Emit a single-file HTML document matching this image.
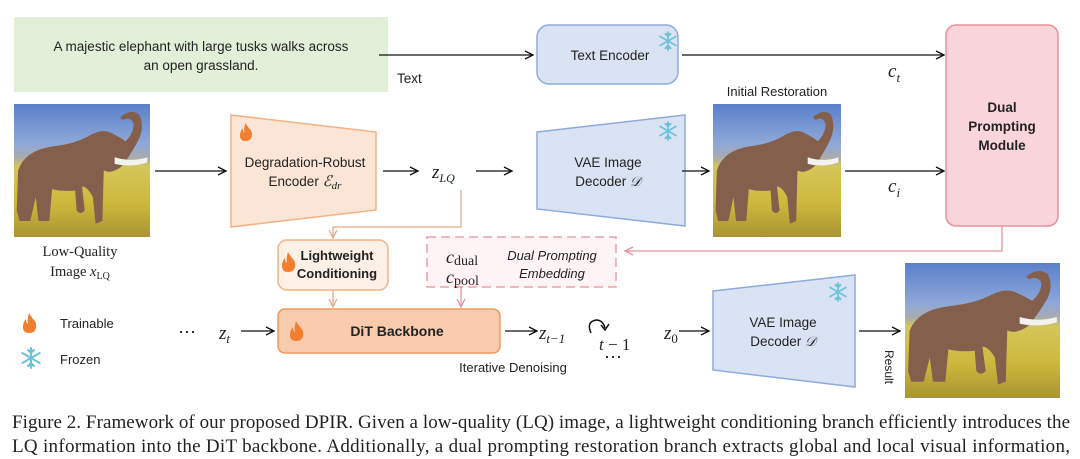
<!DOCTYPE html>
<html><head><meta charset="utf-8"><style>
html,body{margin:0;padding:0;background:#fff;}
svg{display:block;}
.s{font-family:"Liberation Sans",sans-serif;}
.r{font-family:"Liberation Serif",serif;}
</style></head><body>
<svg width="1080" height="459" viewBox="0 0 1080 459" xmlns="http://www.w3.org/2000/svg">
<defs>
<marker id="a" markerWidth="10" markerHeight="10" refX="9" refY="5" orient="auto" markerUnits="userSpaceOnUse"><path d="M1,1 L9,5 L1,9" fill="none" stroke="#111" stroke-width="1.3"/></marker>
<marker id="ao" markerWidth="10" markerHeight="10" refX="9" refY="5" orient="auto" markerUnits="userSpaceOnUse"><path d="M1,1 L9,5 L1,9" fill="none" stroke="#e8a888" stroke-width="1.3"/></marker>
<marker id="ap" markerWidth="10" markerHeight="10" refX="9" refY="5" orient="auto" markerUnits="userSpaceOnUse"><path d="M1,1 L9,5 L1,9" fill="none" stroke="#e8909c" stroke-width="1.3"/></marker>
<linearGradient id="sky" x1="0" y1="0" x2="0" y2="1">
<stop offset="0" stop-color="#5a80cc"/><stop offset="0.3" stop-color="#8fa8d8"/><stop offset="0.4" stop-color="#a8aab0"/><stop offset="0.47" stop-color="#d4c65a"/><stop offset="0.75" stop-color="#cdb83c"/><stop offset="1" stop-color="#a89434"/></linearGradient>
<g id="ele">
<rect x="0" y="0" width="100" height="100" fill="url(#sky)"/>
<path d="M2,80 L3,50 Q8,35 28,32 Q45,30 55,24 Q65,18 72,22 Q78,25 82,28 Q88,22 88,15 Q86,9 80,12 L78,10 Q86,3 92,8 Q96,16 92,26 Q88,34 84,40 Q80,48 74,50 Q70,52 66,50 L65,88 L60,90 L58,70 Q54,62 50,62 L52,80 Q49,84 46,80 L45,65 Q35,66 28,64 L26,88 L18,88 L16,70 L12,88 L4,88 Z" fill="#84604c"/>
<path d="M74,40 Q86,44 98,40 L98,44 Q86,48 74,45Z" fill="#f2f2ee"/>
</g>
<path id="flame" d="M6,0 Q9,5 11,7 Q14,10 13,15 Q12,20 6,20 Q0,20 0,14 Q0,9 3,6 Q3,10 5,11 Q4,6 6,0Z" fill="#f08030"/>
<g id="snow" stroke="#6cc4dc" stroke-width="2" stroke-linecap="round"><path d="M0,-10 L0,10 M-8.7,-5 L8.7,5 M-8.7,5 L8.7,-5 M-3,-8 L0,-5 L3,-8 M-3,8 L0,5 L3,8"/></g>
</defs>

<rect x="14" y="17" width="374" height="75" fill="#e2efd9"/>
<text class="s" x="201" y="51" font-size="13.5" text-anchor="middle" fill="#222">A majestic elephant with large tusks walks across</text>
<text class="s" x="201" y="70" font-size="13.5" text-anchor="middle" fill="#222">an open grassland.</text>
<line x1="379" y1="55" x2="533" y2="55" stroke="#111" stroke-width="1.3" marker-end="url(#a)"/>
<text class="s" x="397" y="83" font-size="13.5" fill="#222">Text</text>

<rect x="537" y="25" width="141" height="59" rx="12" fill="#dae3f3" stroke="#8faadc" stroke-width="1.5"/>
<text class="s" x="610" y="60" font-size="13.5" text-anchor="middle" fill="#222">Text Encoder</text>
<use href="#snow" transform="translate(668,41) scale(0.9)"/>
<line x1="682" y1="55" x2="944" y2="55" stroke="#111" stroke-width="1.3" marker-end="url(#a)"/>
<text class="r" x="888" y="77" font-size="19" font-style="italic" fill="#222">c<tspan font-size="13" dy="5">t</tspan></text>

<rect x="946" y="25" width="112" height="201" rx="10" fill="#fbd5dc" stroke="#e8909c" stroke-width="1.5"/>
<text class="s" x="1002" y="112" font-size="13.5" font-weight="bold" text-anchor="middle" fill="#222">Dual</text>
<text class="s" x="1002" y="131" font-size="13.5" font-weight="bold" text-anchor="middle" fill="#222">Prompting</text>
<text class="s" x="1002" y="150" font-size="13.5" font-weight="bold" text-anchor="middle" fill="#222">Module</text>

<use href="#ele" transform="translate(14,104) scale(1.36,1.33)"/>
<text class="r" x="80" y="256" font-size="14.5" text-anchor="middle" fill="#222">Low-Quality</text>
<text class="r" x="80" y="276" font-size="14.5" text-anchor="middle" fill="#222">Image <tspan font-style="italic">x</tspan><tspan font-size="10" dy="3">LQ</tspan></text>
<line x1="155" y1="171" x2="226" y2="171" stroke="#111" stroke-width="1.3" marker-end="url(#a)"/>

<path d="M231,115 L376,132 L376,210 L231,227 Z" fill="#fbe5d6" stroke="#f4b183" stroke-width="1.5"/>
<use href="#flame" transform="translate(240,123) scale(0.9)"/>
<text class="s" x="305" y="167" font-size="13.5" text-anchor="middle" fill="#222">Degradation-Robust</text>
<text class="s" x="305" y="186" font-size="13.5" text-anchor="middle" fill="#222">Encoder <tspan font-family="Liberation Serif" font-style="italic" font-size="15">ℰ</tspan><tspan font-family="Liberation Serif" font-style="italic" font-size="11" dy="3">dr</tspan></text>
<line x1="383" y1="171" x2="418" y2="171" stroke="#111" stroke-width="1.3" marker-end="url(#a)"/>
<text class="r" x="432" y="178" font-size="19" font-style="italic" fill="#222">z<tspan font-size="12" dy="4">LQ</tspan></text>
<line x1="476" y1="171" x2="512" y2="171" stroke="#111" stroke-width="1.3" marker-end="url(#a)"/>

<path d="M537,132 L685,115 L685,226 L537,209 Z" fill="#dae3f3" stroke="#8faadc" stroke-width="1.5"/>
<use href="#snow" transform="translate(668,131) scale(0.9)"/>
<text class="s" x="608" y="167" font-size="13.5" text-anchor="middle" fill="#222">VAE Image</text>
<text class="s" x="608" y="186" font-size="13.5" text-anchor="middle" fill="#222">Decoder <tspan font-family="Liberation Serif" font-style="italic">𝒟</tspan></text>
<line x1="682" y1="171" x2="709" y2="171" stroke="#111" stroke-width="1.3" marker-end="url(#a)"/>

<text class="s" x="777" y="96" font-size="13" text-anchor="middle" fill="#222">Initial Restoration</text>
<use href="#ele" transform="translate(713,104) scale(1.28,1.33)"/>
<line x1="845" y1="171" x2="944" y2="171" stroke="#111" stroke-width="1.3" marker-end="url(#a)"/>
<text class="r" x="888" y="192" font-size="19" font-style="italic" fill="#222">c<tspan font-size="13" dy="5">i</tspan></text>

<polyline points="1002,226 1002,251 625,251" fill="none" stroke="#e8909c" stroke-width="1.3" marker-end="url(#ap)"/>
<rect x="427" y="237" width="189" height="50" fill="#fef3f5" stroke="#e8909c" stroke-width="1.3" stroke-dasharray="9,5"/>
<text class="r" x="446" y="263" font-size="18" font-style="italic" fill="#222">c<tspan font-style="normal" font-size="14" dy="2">dual</tspan></text>
<text class="r" x="446" y="283" font-size="18" font-style="italic" fill="#222">c<tspan font-style="normal" font-size="14" dy="2">pool</tspan></text>
<text class="s" x="552" y="260" font-size="13" font-style="italic" text-anchor="middle" fill="#222">Dual Prompting</text>
<text class="s" x="552" y="278" font-size="13" font-style="italic" text-anchor="middle" fill="#222">Embedding</text>

<polyline points="461,190 461,227 333,227 333,238" fill="none" stroke="#e8a888" stroke-width="1.3" marker-end="url(#ao)"/>
<rect x="278" y="240" width="110" height="50" rx="9" fill="#fdf0e6" stroke="#f4b183" stroke-width="1.5"/>
<use href="#flame" transform="translate(282,252)"/>
<text class="s" x="337" y="260" font-size="13" font-weight="bold" text-anchor="middle" fill="#222">Lightweight</text>
<text class="s" x="337" y="278" font-size="13" font-weight="bold" text-anchor="middle" fill="#222">Conditioning</text>
<line x1="333" y1="290" x2="333" y2="307" stroke="#e8a888" stroke-width="1.3" marker-end="url(#ao)"/>
<line x1="461" y1="287" x2="461" y2="307" stroke="#e8909c" stroke-width="1.3" marker-end="url(#ap)"/>

<rect x="278" y="309" width="222" height="44" rx="7" fill="#f8cbad" stroke="#ed9b5e" stroke-width="1.5"/>
<use href="#flame" transform="translate(290,321)"/>
<text class="s" x="397" y="336" font-size="14" font-weight="bold" text-anchor="middle" fill="#222">DiT Backbone</text>
<text class="r" x="178" y="338" font-size="18" fill="#222">⋯</text>
<text class="r" x="219" y="339" font-size="19" font-style="italic" fill="#222">z<tspan font-size="13" dy="4">t</tspan></text>
<line x1="241" y1="331" x2="274" y2="331" stroke="#111" stroke-width="1.3" marker-end="url(#a)"/>
<line x1="505" y1="331" x2="537" y2="331" stroke="#111" stroke-width="1.3" marker-end="url(#a)"/>
<text class="r" x="539" y="339" font-size="19" font-style="italic" fill="#222">z<tspan font-size="13" dy="4">t−1</tspan></text>
<text class="s" x="513" y="372" font-size="13" text-anchor="middle" fill="#222">Iterative Denoising</text>

<path d="M591,333 Q586,322 596,320 Q603,320 605,328" fill="none" stroke="#111" stroke-width="1.5"/>
<path d="M601,325 L605,330 L609,324" fill="none" stroke="#111" stroke-width="1.5"/>
<text class="r" x="599" y="350" font-size="17" font-style="italic" fill="#222">t<tspan font-style="normal"> − 1</tspan></text>
<text class="r" x="604" y="363" font-size="18" fill="#222">⋯</text>
<text class="r" x="664" y="339" font-size="19" font-style="italic" fill="#222">z<tspan font-style="normal" font-size="13" dy="4">0</tspan></text>
<line x1="679" y1="331" x2="709" y2="331" stroke="#111" stroke-width="1.3" marker-end="url(#a)"/>

<path d="M713,291 L855,275 L855,387 L713,370 Z" fill="#dae3f3" stroke="#8faadc" stroke-width="1.5"/>
<use href="#snow" transform="translate(838,292) scale(0.9)"/>
<text class="s" x="783" y="327" font-size="13.5" text-anchor="middle" fill="#222">VAE Image</text>
<text class="s" x="783" y="346" font-size="13.5" text-anchor="middle" fill="#222">Decoder <tspan font-family="Liberation Serif" font-style="italic">𝒟</tspan></text>
<line x1="859" y1="331" x2="900" y2="331" stroke="#111" stroke-width="1.3" marker-end="url(#a)"/>
<text class="s" x="0" y="0" font-size="12" fill="#222" transform="translate(885,350) rotate(90)">Result</text>
<use href="#ele" transform="translate(905,263) scale(1.55,1.35)"/>

<use href="#flame" transform="translate(23,313)"/>
<text class="s" x="60" y="328" font-size="13" fill="#222">Trainable</text>
<use href="#snow" transform="translate(31,358)"/>
<text class="s" x="60" y="364" font-size="13" fill="#222">Frozen</text>

<text class="r" x="12" y="428" font-size="19" fill="#222" textLength="1058" lengthAdjust="spacing">Figure 2. Framework of our proposed DPIR. Given a low-quality (LQ) image, a lightweight conditioning branch efficiently introduces the</text>
<text class="r" x="12" y="452" font-size="19" fill="#222" textLength="1058" lengthAdjust="spacing">LQ information into the DiT backbone.  Additionally, a dual prompting restoration branch extracts global and local visual information,</text>
</svg>
</body></html>
